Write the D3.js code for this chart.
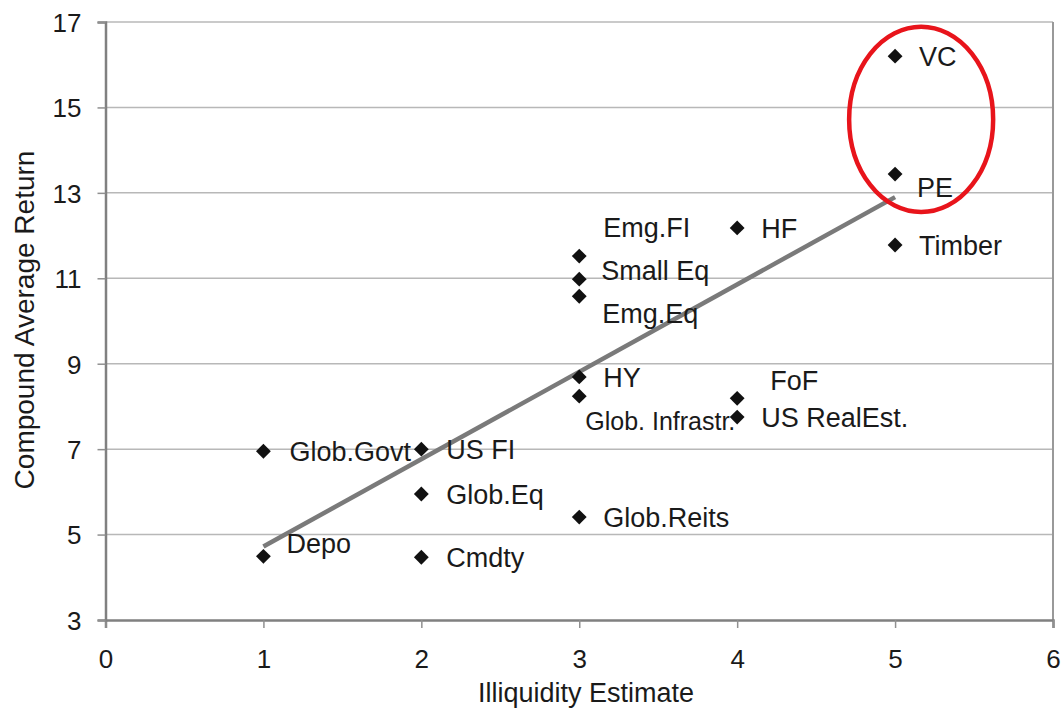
<!DOCTYPE html>
<html><head><meta charset="utf-8">
<script src="https://cdn.jsdelivr.net/npm/d3@7"></script>
<style>body{margin:0;background:#fff}svg{display:block}text{font-family:"Liberation Sans",Arial,sans-serif;fill:#1a1a1a}</style>
</head><body><svg id="c" width="1061" height="708"></svg>
<script>
const names = ["VC","PE","Timber","HF","Emg.FI","Small Eq","Emg.Eq","HY","Glob. Infrastr.","FoF","US RealEst.","Glob.Govt","US FI","Glob.Eq","Glob.Reits","Depo","Cmdty"];
const illiquidity = [5,5,5,4,3,3,3,3,3,4,4,1,2,2,3,1,2];
const returns = [16.2,13.44,11.78,12.18,11.52,10.98,10.58,8.69,8.24,8.19,7.75,6.95,7.0,5.95,5.41,4.49,4.47];
const trendX = [1,5];
const trendY = [4.72,12.9];
const xTicks = [0,1,2,3,4,5,6];
const yTicks = [3,5,7,9,11,13,15,17];
// label offsets (px) for data labels
const labelDx = [24,22,24,24,24,22,23,24,6,33,24,26,25,25,24,23,25];
const labelDy = [0,13,0,0,-29,-9,17,0,25,-18,0,0,0,0,0,-13,0];

const svg = d3.select("#c");
const L=105.5, R=1053, T=22, B=620;
const x = d3.scaleLinear().domain([0,6]).range([L,R]);
const y = d3.scaleLinear().domain([3,17]).range([B,T]);

// gridlines
svg.append("g").selectAll("line").data(yTicks.filter(d=>d>3)).join("line")
  .attr("x1",L).attr("x2",R).attr("y1",d=>y(d)).attr("y2",d=>y(d))
  .attr("stroke","#b8b8b8").attr("stroke-width",1.5);
// right border
svg.append("line").attr("x1",R).attr("x2",R).attr("y1",T).attr("y2",B).attr("stroke","#999").attr("stroke-width",2);

// axes
const xa = svg.append("g").attr("transform",`translate(0,${B})`)
  .call(d3.axisBottom(x).tickValues(xTicks).tickSize(8).tickPadding(22).tickFormat(d3.format("d")));
const ya = svg.append("g").attr("transform",`translate(${L},0)`)
  .call(d3.axisLeft(y).tickValues(yTicks).tickSize(8).tickPadding(16).tickFormat(d3.format("d")));
[xa,ya].forEach(a=>{
  a.select(".domain").attr("stroke","#808080").attr("stroke-width",2.5);
  a.selectAll(".tick line").attr("stroke","#909090").attr("stroke-width",1.5);
  a.selectAll(".tick text").attr("font-size",26).attr("fill","#1a1a1a").style("font-family","Liberation Sans, Arial, sans-serif");
});
ya.selectAll(".tick text").attr("dy","0.36em");
xa.selectAll(".tick text").attr("dy","0.71em");

// trend line
svg.append("path").datum(trendX.map((d,i)=>[d,trendY[i]]))
  .attr("d",d3.line().x(d=>x(d[0])).y(d=>y(d[1])))
  .attr("stroke","#7a7a7a").attr("stroke-width",4.5).attr("fill","none");

// points
const sym = d3.symbol().type(d3.symbolSquare).size(110);
svg.append("g").selectAll("path").data(names).join("path")
  .attr("d",sym())
  .attr("transform",(d,i)=>`translate(${x(illiquidity[i])},${y(returns[i])}) rotate(45)`)
  .attr("fill","#111");

// labels
svg.append("g").selectAll("text").data(names).join("text")
  .attr("x",(d,i)=>x(illiquidity[i])+labelDx[i])
  .attr("y",(d,i)=>y(returns[i])+labelDy[i])
  .attr("dy","0.36em")
  .attr("font-size",(d,i)=>d==="Glob. Infrastr."?25:27)
  .text(d=>d);

// axis titles
svg.append("text").attr("x",586).attr("y",701.5).attr("text-anchor","middle").attr("font-size",27).text("Illiquidity Estimate");
svg.append("text").attr("transform",`translate(34,320) rotate(-90)`).attr("text-anchor","middle").attr("font-size",28).text("Compound Average Return");

// annotation ellipse
svg.append("ellipse").attr("cx",x(5.165)).attr("cy",y(14.72))
  .attr("rx",x(5.165+0.456)-x(5.165)).attr("ry",y(14.72)-y(14.72+2.17))
  .attr("fill","none").attr("stroke","#e8141b").attr("stroke-width",4.5);
</script></body></html>
